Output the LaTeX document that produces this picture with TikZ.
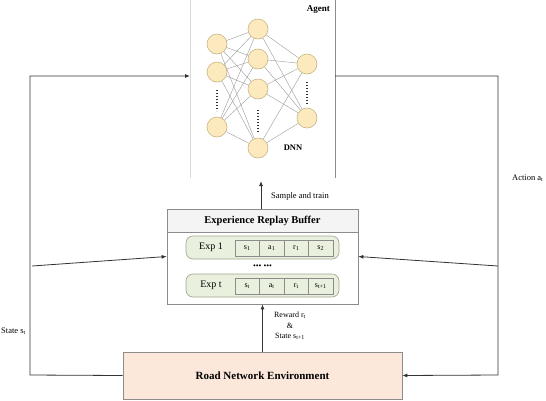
\documentclass[tikz,border=0pt]{standalone}
\usepackage{fontspec}
\setmainfont{Liberation Serif}
\usetikzlibrary{arrows.meta}
\definecolor{linec}{HTML}{333333}
\definecolor{neuronfill}{HTML}{FCE9BE}
\definecolor{neurondraw}{HTML}{C9B584}
\definecolor{edgec}{HTML}{9A9A9A}
\definecolor{envfill}{HTML}{FCE8DB}
\definecolor{boxdraw}{HTML}{8C8C8C}
\definecolor{headfill}{HTML}{F4F4F4}
\definecolor{rowfill}{HTML}{E9F0DD}
\definecolor{rowdraw}{HTML}{9DA68C}
\tikzset{
  conn/.style={draw=linec, line width=0.8pt},
  arr/.style={conn, -{Latex[length=5pt,width=4pt]}},
  neuron/.style={circle, fill=neuronfill, draw=neurondraw, line width=0.6pt, minimum size=20pt, inner sep=0pt},
  nnedge/.style={draw=edgec, line width=0.4pt},
  vdots/.style={line width=1.6pt, dash pattern=on 1.4pt off 1.6pt, draw=black!80},
  lbl/.style={font=\fontsize{8.5}{10}\selectfont, inner sep=0pt},
  cellbox/.style={draw=boxdraw, line width=0.5pt, minimum width=24.5pt, minimum height=16pt, inner sep=0pt, font=\fontsize{8}{9}\selectfont},
  rowbox/.style={draw=rowdraw, fill=rowfill, line width=0.6pt, rounded corners=7pt, minimum width=153pt, minimum height=23pt, inner sep=0pt},
}
\begin{document}
\begin{tikzpicture}[x=1pt,y=-1pt]
\useasboundingbox (0,0) rectangle (546,400);
% agent box sides
\draw[draw=black!15, line width=0.8pt] (190,0) -- (190,178);
\draw[draw=black!45, line width=0.9pt] (335,0) -- (335,178);
\coordinate (agentW) at (190,76);
\coordinate (agentE) at (335,76);
\coordinate (agentS) at (261,181);
\node[font=\bfseries\fontsize{9}{10}\selectfont, anchor=east, inner sep=0pt] (agentlbl) at (330,10) {Agent};
\node[font=\bfseries\fontsize{8.5}{10}\selectfont, inner sep=0pt] (dnnlbl) at (293,148) {DNN};
% neuron positions
\coordinate (a1) at (217,44);
\coordinate (a2) at (217,72);
\coordinate (a3) at (217,127);
\coordinate (b1) at (258,29);
\coordinate (b2) at (258,59);
\coordinate (b3) at (258,89);
\coordinate (b4) at (258,148);
\coordinate (c1) at (307,64);
\coordinate (c2) at (307,118);
\foreach \i in {a1,a2,a3}{\foreach \j in {b1,b2,b3,b4}{\draw[nnedge] (\i) -- (\j);}}
\foreach \i in {b1,b2,b3,b4}{\foreach \j in {c1,c2}{\draw[nnedge] (\i) -- (\j);}}
\foreach \n in {a1,a2,a3,b1,b2,b3,b4,c1,c2}{
  \node[neuron] (n\n) at (\n) {};
}
\draw[vdots] (217,90) -- (217,111);
\draw[vdots] (258,110) -- (258,133);
\draw[vdots] (307,82) -- (307,105);
% buffer
\node[draw=boxdraw, line width=0.7pt, minimum width=191pt, minimum height=95pt, inner sep=0pt] (buffer) at (262.5,256.5) {};
\node[draw=boxdraw, fill=headfill, line width=0.7pt, minimum width=191pt, minimum height=23pt, inner sep=0pt, font=\bfseries\fontsize{10.5}{12}\selectfont] (bufhead) at (262.5,220.5) {Experience Replay Buffer};
\node[rowbox] (row1) at (262.5,247.5) {};
\node[rowbox] (row2) at (262.5,285.5) {};
\node[font=\fontsize{10}{12}\selectfont, inner sep=0pt] (exp1) at (211,247) {Exp 1};
\node[font=\fontsize{10}{12}\selectfont, inner sep=0pt] (expt) at (211,285) {Exp t};
\node[cellbox] (c11) at (247.25,248) {s\textsubscript{1}};
\node[cellbox] (c12) at (271.75,248) {a\textsubscript{1}};
\node[cellbox] (c13) at (296.25,248) {r\textsubscript{1}};
\node[cellbox] (c14) at (320.75,248) {s\textsubscript{2}};
\node[cellbox] (c21) at (247.25,286) {s\textsubscript{t}};
\node[cellbox] (c22) at (271.75,286) {a\textsubscript{t}};
\node[cellbox] (c23) at (296.25,286) {r\textsubscript{t}};
\node[cellbox] (c24) at (320.75,286) {s\textsubscript{t+1}};
\node[font=\fontsize{8}{9}\selectfont, inner sep=0pt] (dots) at (262.5,267) {••• •••};
% environment
\node[draw=boxdraw, fill=envfill, line width=0.7pt, minimum width=279pt, minimum height=47pt, inner sep=0pt, font=\bfseries\fontsize{11}{13}\selectfont] (env) at (262.5,375.5) {Road Network Environment};
% connectors
\coordinate (lc) at (30,375);
\coordinate (lt) at (30,76);
\coordinate (lm) at (32,266);
\coordinate (rt) at (498,76);
\coordinate (rb) at (498,375);
\coordinate (rm) at (498,266);
\draw[arr] (env.west) -- (lc) -- (lt) -- (agentW);
\draw[arr] (agentE) -- (rt) -- (rb) -- (env.east);
\draw[arr] (lm) -- (buffer.west);
\draw[arr] (rm) -- (buffer.east);
\draw[arr] (bufhead.north -| agentS) -- (agentS);
\draw[arr] (env.north) -- (buffer.south);
% labels
\node[lbl, anchor=west] (samplelbl) at (271,196) {Sample and train};
\node[lbl, align=center, font=\fontsize{8}{10.5}\selectfont] (rewardlbl) at (290,326) {Reward r\textsubscript{t}\\\&\\State s\textsubscript{t+1}};
\node[lbl, anchor=east] (statelbl) at (26,331) {State s\textsubscript{t}};
\node[lbl, anchor=west] (actionlbl) at (512,178) {Action a\textsubscript{t}};
\end{tikzpicture}
\end{document}
